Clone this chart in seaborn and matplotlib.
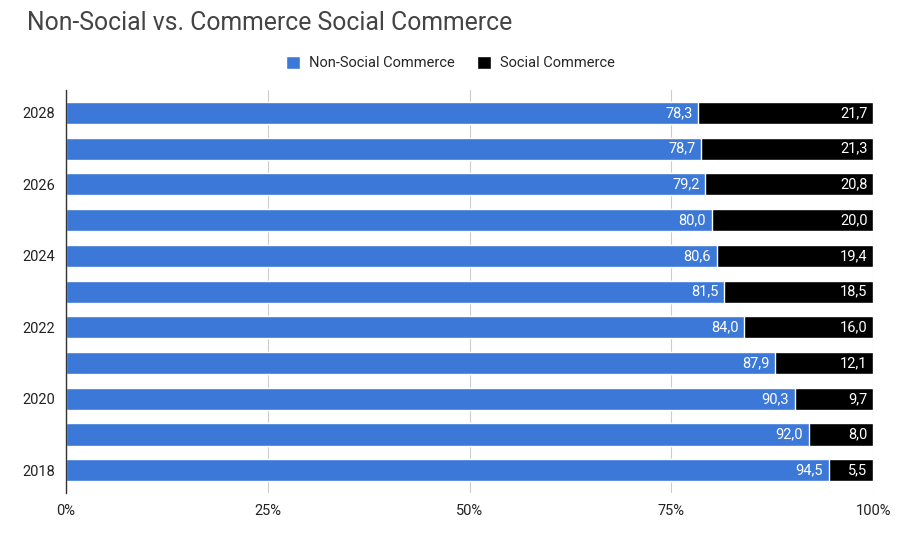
import matplotlib
matplotlib.use("Agg")
import matplotlib.pyplot as plt
import seaborn as sns
import pandas as pd

# data (top to bottom, as drawn)
years = ["2028", "2027", "2026", "2025", "2024", "2023", "2022", "2021", "2020", "2019", "2018"]
non_social = [78.3, 78.7, 79.2, 80.0, 80.6, 81.5, 84.0, 87.9, 90.3, 92.0, 94.5]
social = [21.7, 21.3, 20.8, 20.0, 19.4, 18.5, 16.0, 12.1, 9.7, 8.0, 5.5]

df = pd.DataFrame({"Year": years, "Non-Social Commerce": non_social, "Social Commerce": social})
df["Total"] = df["Non-Social Commerce"] + df["Social Commerce"]

sns.set_style("white")
plt.rcParams["font.family"] = ["Roboto", "DejaVu Sans"]

BLUE = "#3c78d8"
BLACK = "#000000"

fig = plt.figure(figsize=(9.1, 5.39), dpi=100)
ax = fig.add_axes([0.0725, 0.085, 0.887, 0.748])

# stacked: full bar in black, non-social in blue over it
sns.barplot(data=df, y="Year", x="Total", order=years, color=BLACK, width=0.62,
            orient="h", ax=ax, saturation=1, label="Social Commerce", zorder=2)
sns.barplot(data=df, y="Year", x="Non-Social Commerce", order=years, color=BLUE, width=0.62,
            orient="h", ax=ax, saturation=1, label="Non-Social Commerce", zorder=3)
if ax.get_legend() is not None:
    ax.get_legend().remove()

fmt = lambda v: f"{v:.1f}".replace(".", ",")
txt = ax.bar_label(ax.containers[0], labels=[fmt(v) for v in social], padding=-4,
                   color="white", fontsize=10.5, zorder=5)
for t in txt:
    t.set_ha("right")
txt = ax.bar_label(ax.containers[1], labels=[fmt(v) for v in non_social], padding=-4,
                   color="white", fontsize=10.5, zorder=5)
for t in txt:
    t.set_ha("right")

ax.set_xlim(0, 100)
ax.set_xticks([0, 25, 50, 75, 100])
ax.set_xticklabels(["0%", "25%", "50%", "75%", "100%"])
ax.set_yticks(range(len(years)))
ax.set_yticklabels([y if i % 2 == 0 else "" for i, y in enumerate(years)])
ax.set_ylim(len(years) - 0.36, -0.64)
ax.tick_params(axis="both", length=0, labelsize=10.5, labelcolor="#222222", pad=8)
ax.set_xlabel("")
ax.set_ylabel("")
ax.grid(axis="x", color="#cccccc", linewidth=0.8, zorder=0)
ax.set_axisbelow(True)
for s in ["top", "right", "bottom"]:
    ax.spines[s].set_visible(False)
ax.spines["left"].set_color("#333333")
ax.spines["left"].set_linewidth(1)
ax.spines["left"].set_zorder(6)

handles, labels = ax.get_legend_handles_labels()
order = [labels.index("Non-Social Commerce"), labels.index("Social Commerce")]
fig.legend([handles[i] for i in order], [labels[i] for i in order], loc="center",
           bbox_to_anchor=(0.495, 0.883), ncol=2, frameon=False, fontsize=10.5,
           handlelength=1.0, handleheight=1.0, handletextpad=0.6, columnspacing=1.5)

fig.text(0.03, 0.957, "Non-Social vs. Commerce Social Commerce", fontsize=17.8,
         color="#444444", va="center", ha="left")

fig.savefig("out.png", dpi=100)
